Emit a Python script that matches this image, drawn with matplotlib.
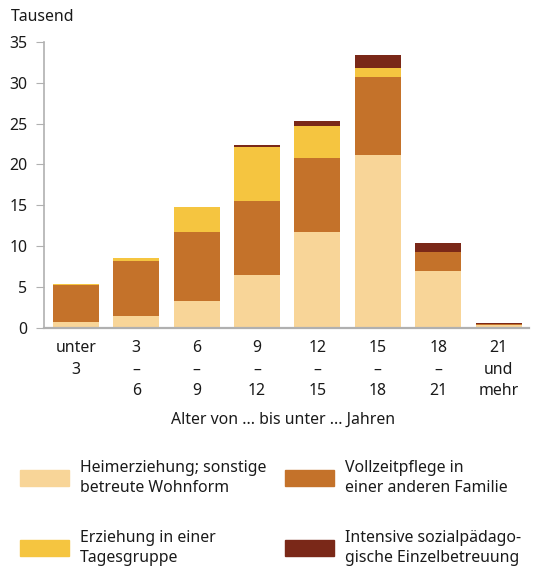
import matplotlib
matplotlib.use('Agg')
import matplotlib.pyplot as plt
from matplotlib.patches import Rectangle
import numpy as np

plt.rcParams['font.family'] = ['Noto Sans', 'DejaVu Sans']

# Altersgruppen
groups = ['unter\n3', '3\n–\n6', '6\n–\n9', '9\n–\n12', '12\n–\n15',
          '15\n–\n18', '18\n–\n21', '21\nund\nmehr']

# Werte in Tausend
heim = [0.68, 1.42, 3.33, 6.51, 11.76, 21.16, 7.0, 0.40]
voll = [4.52, 6.80, 8.43, 9.03, 9.04, 9.52, 2.32, 0.12]
erz = [0.20, 0.36, 3.05, 6.60, 3.90, 1.10, 0.0, 0.02]
intensiv = [0.02, 0.02, 0.02, 0.24, 0.61, 1.59, 1.10, 0.10]

labels = ['Heimerziehung; sonstige\nbetreute Wohnform',
          'Vollzeitpflege in\neiner anderen Familie',
          'Erziehung in einer\nTagesgruppe',
          'Intensive sozialpädago-\ngische Einzelbetreuung']
colors = ['#f8d598', '#c4722a', '#f5c540', '#7a2818']

fs = 11.4
fig = plt.figure(figsize=(5.56, 5.70), dpi=100)
ax = fig.add_axes([0.079, 0.4246, 0.872, 0.5022])

x = np.arange(len(groups))
bottom = np.zeros(len(groups))
for vals, c in zip([heim, voll, erz, intensiv], colors):
    ax.bar(x, vals, width=0.76, bottom=bottom, color=c, linewidth=0)
    bottom += np.array(vals)

ax.set_ylim(0, 35)
ax.set_xlim(-0.53, 7.5)
ax.set_yticks(range(0, 36, 5))
ax.set_xticks(x)
ax.set_xticklabels(groups, linespacing=1.45, fontsize=fs, color='#1a1a1a')
ax.tick_params(axis='x', length=0, pad=9)
ax.tick_params(axis='y', length=6, color='#b0b0b0', labelsize=fs, labelcolor='#1a1a1a', pad=6)
for s in ['top', 'right']:
    ax.spines[s].set_visible(False)
ax.spines['left'].set_color('#b0b0b0')
ax.spines['bottom'].set_color('#b0b0b0')
ax.spines['left'].set_linewidth(1.2)
ax.spines['bottom'].set_linewidth(1.6)

fig.text(0.02, 0.97, 'Tausend', fontsize=fs, va='center', ha='left', color='#1a1a1a')
fig.text(0.51, 0.263, 'Alter von ... bis unter ... Jahren', fontsize=fs,
         va='center', ha='center', color='#1a1a1a')

# Legende
pos = [(20, 478), (285, 478), (20, 548), (285, 548)]
for (px, py), c, lab in zip(pos, colors, labels):
    fig.patches.append(Rectangle((px / 556, (570 - py - 8) / 570), 49 / 556, 16 / 570,
                                 transform=fig.transFigure, color=c, figure=fig))
    fig.text((px + 60) / 556, (570 - py) / 570, lab, fontsize=fs, va='center',
             ha='left', linespacing=1.25, color='#1a1a1a')

plt.savefig('out.png', dpi=100)
